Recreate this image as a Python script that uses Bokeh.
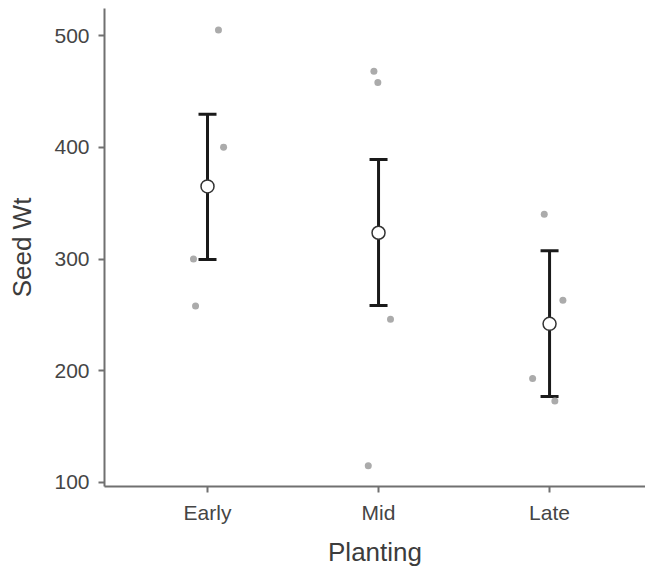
from bokeh.plotting import figure
from bokeh.models import Range1d, FixedTicker, Whisker, TeeHead, ColumnDataSource
from bokeh.embed import file_html
from bokeh.resources import INLINE

# ---- data ----
groups = ["Early", "Mid", "Late"]
group_pos = [1, 2, 3]
means = [365, 323.5, 242]
lower = [299.5, 258.5, 177]
upper = [429.5, 389, 307.5]

early_vals = [505, 400, 300, 258]
mid_vals = [468, 458, 246, 115]
late_vals = [340, 263, 193, 173]
early_jit = [0.064, 0.094, -0.082, -0.07]
mid_jit = [-0.027, -0.004, 0.07, -0.06]
late_jit = [-0.031, 0.078, -0.099, 0.031]

y_ticks = [100, 200, 300, 400, 500]

FONT = "Liberation Sans"

p = figure(width=645, height=569, output_backend="svg", toolbar_location=None,
           x_range=Range1d(0.3977, 3.561), y_range=Range1d(96.4, 524.2),
           min_border_left=104, min_border_right=0, min_border_top=8, min_border_bottom=83)
p.outline_line_color = None
p.xgrid.visible = False
p.ygrid.visible = False
p.background_fill_color = "white"
p.border_fill_color = "white"

# raw points
px, py = [], []
for pos, vals, jit in zip(group_pos, [early_vals, mid_vals, late_vals], [early_jit, mid_jit, late_jit]):
    for v, j in zip(vals, jit):
        px.append(pos + j)
        py.append(v)
p.scatter(px, py, size=7, fill_color="#ababab", line_color=None)

# error bars
src = ColumnDataSource(dict(x=group_pos, lo=lower, hi=upper, m=means))
w = Whisker(source=src, base="x", lower="lo", upper="hi", line_color="#1a1a1a", line_width=3,
            upper_head=TeeHead(size=18, line_width=3, line_color="#1a1a1a"),
            lower_head=TeeHead(size=18, line_width=3, line_color="#1a1a1a"))
p.add_layout(w)

p.scatter("x", "m", source=src, size=13, fill_color="white", line_color="#333333", line_width=1.5)

# axes
for ax in (p.xaxis[0], p.yaxis[0]):
    ax.axis_line_color = "#707070"
    ax.axis_line_width = 2
    ax.major_tick_line_color = "#707070"
    ax.major_tick_line_width = 2
    ax.major_tick_out = 6
    ax.major_tick_in = 0
    ax.minor_tick_line_color = None
    ax.major_label_text_font = FONT
    ax.major_label_text_font_size = "21px"
    ax.major_label_text_color = "#454545"
    ax.axis_label_text_font = FONT
    ax.axis_label_text_font_size = "26px"
    ax.axis_label_text_font_style = "normal"
    ax.axis_label_text_color = "#3c3c3c"

p.xaxis.ticker = FixedTicker(ticks=group_pos)
p.xaxis.major_label_overrides = {pos: g for pos, g in zip(group_pos, groups)}
p.xaxis.axis_label = "Planting"
p.xaxis.major_label_standoff = 8
p.xaxis.axis_label_standoff = 10

p.yaxis.ticker = FixedTicker(ticks=y_ticks)
p.yaxis.axis_label = "Seed Wt"
p.yaxis.major_label_standoff = 9
p.yaxis.axis_label_standoff = 14

open("out.html", "w").write(file_html(p, INLINE))
